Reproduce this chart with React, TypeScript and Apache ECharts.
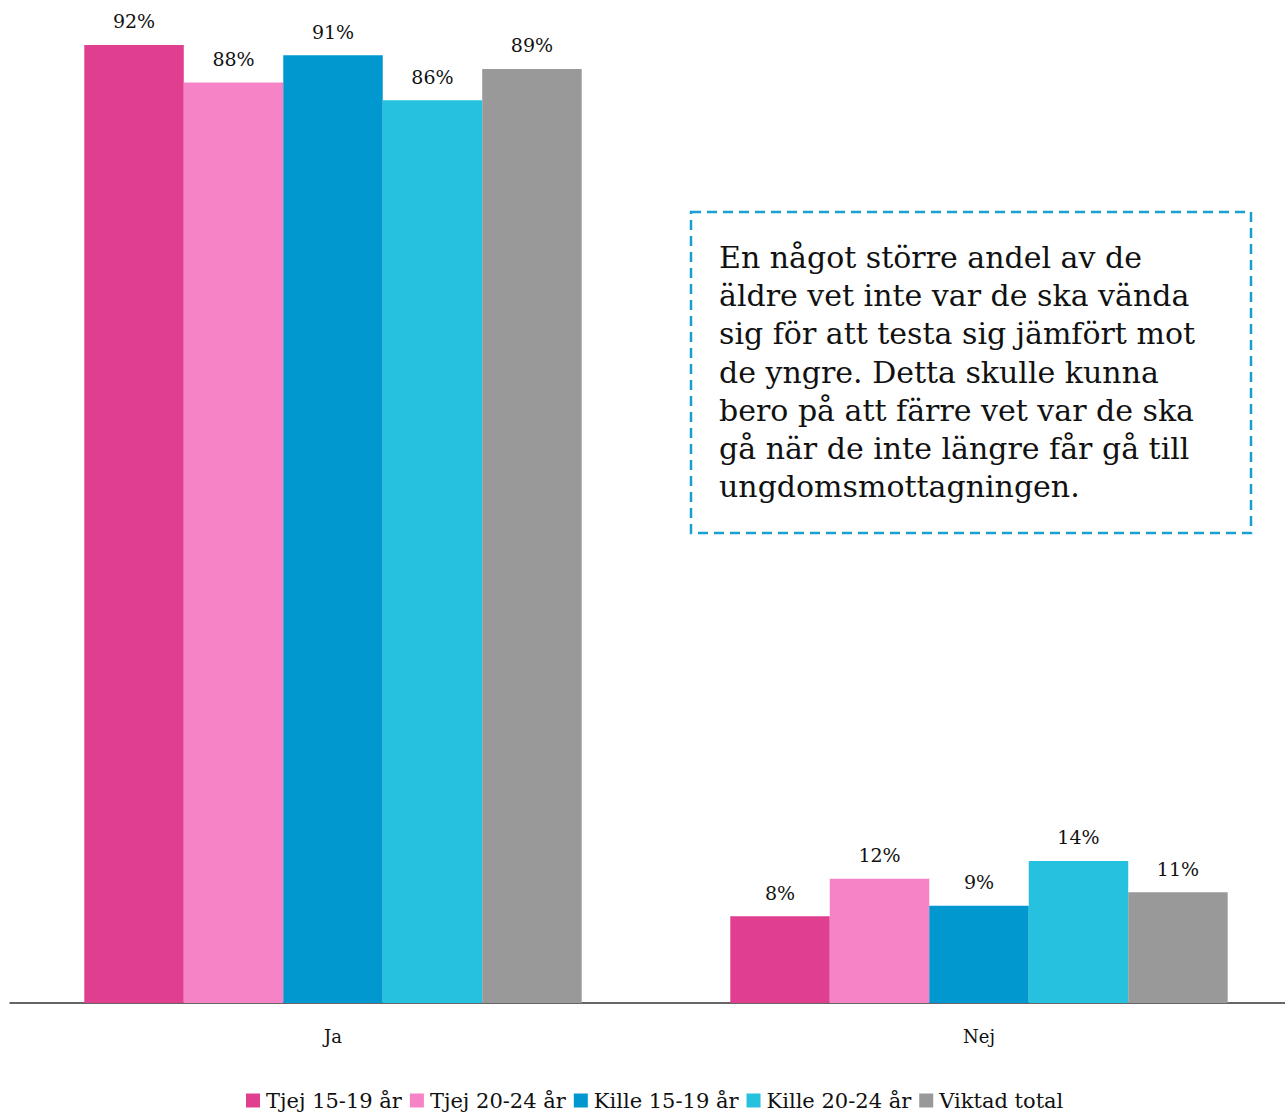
import React, { useEffect, useRef } from "react";
import * as echarts from "echarts";

const categories = ["Ja", "Nej"];
const seriesNames = ["Tjej 15-19 år", "Tjej 20-24 år", "Kille 15-19 år", "Kille 20-24 år", "Viktad total"];
const tjej1519 = [91.7, 8.3];
const tjej2024 = [88.1, 11.9];
const kille1519 = [90.7, 9.3];
const kille2024 = [86.4, 13.6];
const viktad = [89.4, 10.6];
const colors = ["#e03e8f", "#f783c7", "#0098cf", "#26c1de", "#999999"];
const noteText =
  "En något större andel av de\näldre vet inte var de ska vända\nsig för att testa sig jämfört mot\nde yngre. Detta skulle kunna\nbero på att färre vet var de ska\ngå när de inte längre får gå till\nungdomsmottagningen.";

const FONT = "DejaVu Serif";

export default function App() {
  const ref = useRef<HTMLDivElement>(null);
  useEffect(() => {
    if (!ref.current) return;
    const chart = echarts.init(ref.current, null, { renderer: "svg" });
    const all = [tjej1519, tjej2024, kille1519, kille2024, viktad];
    chart.setOption({
      animation: false,
      textStyle: { fontFamily: FONT },
      grid: { left: 10, top: 0, right: 0, bottom: 109, containLabel: false, outerBoundsMode: "none" },
      xAxis: {
        type: "category",
        data: categories,
        axisLine: { lineStyle: { color: "#333", width: 1.5 } },
        axisTick: { show: false },
        axisLabel: { color: "#111", fontSize: 18, margin: 24, fontFamily: FONT },
      },
      yAxis: { type: "value", min: 0, max: 96, show: false, splitLine: { show: false } },
      legend: {
        bottom: 1,
        left: 246,
        padding: 0,
        itemWidth: 14,
        itemHeight: 14,
        itemGap: 8,
        icon: "rect",
        textStyle: { fontSize: 21, color: "#111", fontFamily: FONT, padding: [0, 0, 0, 1] },
        data: seriesNames,
      },
      series: seriesNames.map((name, i) => ({
        name,
        type: "bar",
        data: all[i],
        barGap: "0%",
        barCategoryGap: "23%",
        itemStyle: { color: colors[i] },
        label: {
          show: true,
          position: "top",
          distance: 14,
          fontSize: 19,
          color: "#111",
          fontFamily: FONT,
          formatter: (p: any) => Math.round(p.value) + "%",
        },
      })),
      graphic: [
        {
          type: "rect",
          shape: { x: 691, y: 212, width: 560, height: 321 },
          style: { fill: "none", stroke: "#1a9fd4", lineWidth: 2.5, lineDash: [10, 6] },
        },
        {
          type: "text",
          x: 719,
          y: 238,
          style: {
            text: noteText,
            fontSize: 30,
            lineHeight: 38.3,
            fontFamily: FONT,
            fill: "#111",
          },
        },
      ],
    });
    return () => chart.dispose();
  }, []);
  return (
    <div
      style={{ position: "absolute", left: 0, top: 0, width: 1285, height: 1112, overflow: "hidden" }}
    >
      <div ref={ref} style={{ width: 1302, height: 1112 }} />
    </div>
  );
}
